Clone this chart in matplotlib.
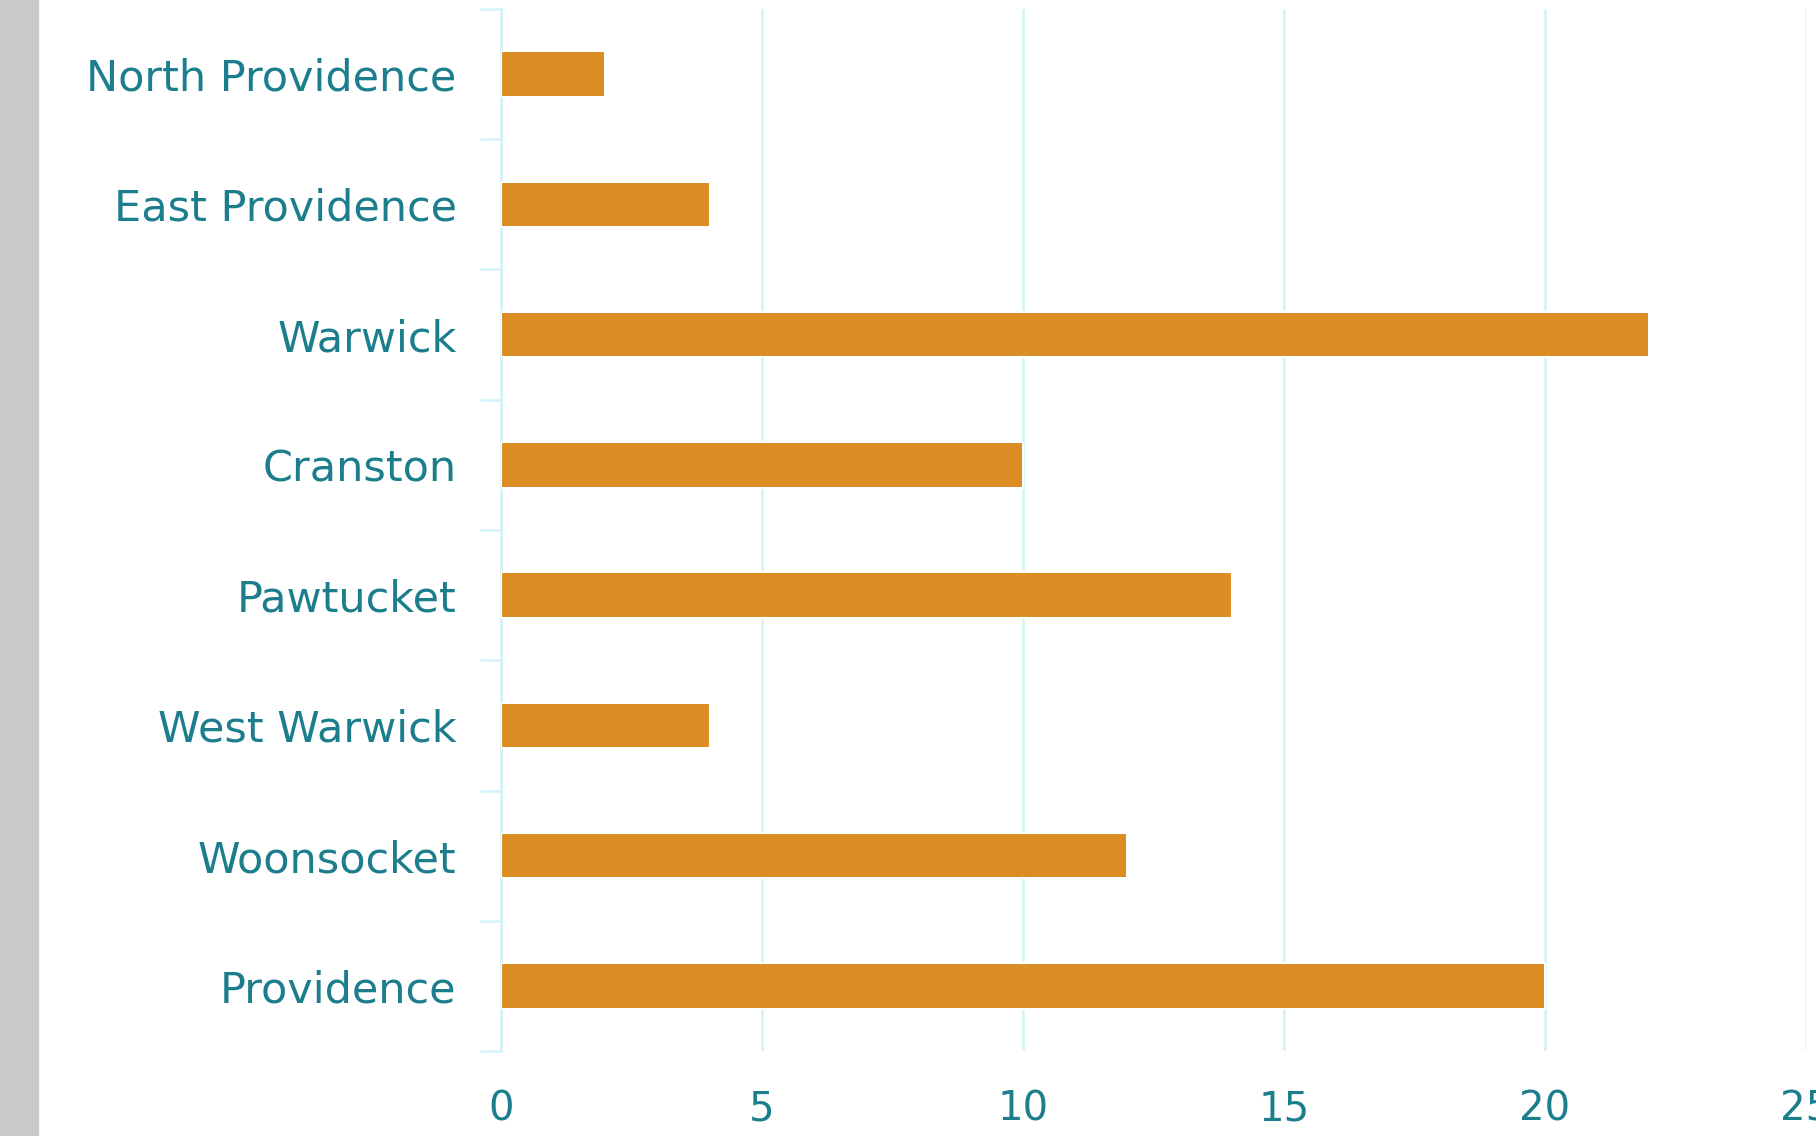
import matplotlib.pyplot as plt
from matplotlib.patches import Rectangle
import numpy as np

plt.rc('font', family='DejaVu Sans')

cities = ['North Providence', 'East Providence', 'Warwick', 'Cranston',
          'Pawtucket', 'West Warwick', 'Woonsocket', 'Providence']
counts = [2, 4, 22, 10, 14, 4, 12, 20]
xticks = [0, 5, 10, 15, 20, 25]

teal = '#1c7e8d'
orange = '#db8c23'
grid = '#d3f2f9'

fig = plt.figure(figsize=(18.16, 11.36), dpi=100)
fig.patches.append(Rectangle((0, 0), 0.021, 1, transform=fig.transFigure,
                             color='#c9c9c9', zorder=0))

ax = fig.add_axes([0.2759, 0.0748, 0.7186, 0.9173])
pos = np.arange(len(cities))
ax.barh(pos, counts, height=0.35, color=orange, edgecolor='white',
        linewidth=1.5, zorder=3)

ax.set_xlim(0, 25)
ax.set_ylim(len(cities) - 0.5, -0.5)
ax.set_xticks(xticks)
ax.set_xticklabels([str(t) for t in xticks])
ax.xaxis.grid(True, color=grid, linewidth=1.8, zorder=1)
ax.tick_params(axis='x', length=0, pad=28, labelsize=29, labelcolor=teal)

# ticks mark the category boundaries, the names sit at the centres
ax.set_yticks(np.arange(len(cities) + 1) - 0.5)
ax.set_yticklabels([])
ax.set_yticks(pos, minor=True)
ax.set_yticklabels(cities, minor=True)
ax.tick_params(axis='y', which='major', length=15, width=1.8, color=grid,
               direction='out')
ax.tick_params(axis='y', which='minor', length=0, pad=32, labelsize=31,
               labelcolor=teal)

for s in ['top', 'right', 'bottom']:
    ax.spines[s].set_visible(False)
ax.spines['left'].set_color(grid)
ax.spines['left'].set_linewidth(1.8)

fig.savefig('out.png', dpi=100)
